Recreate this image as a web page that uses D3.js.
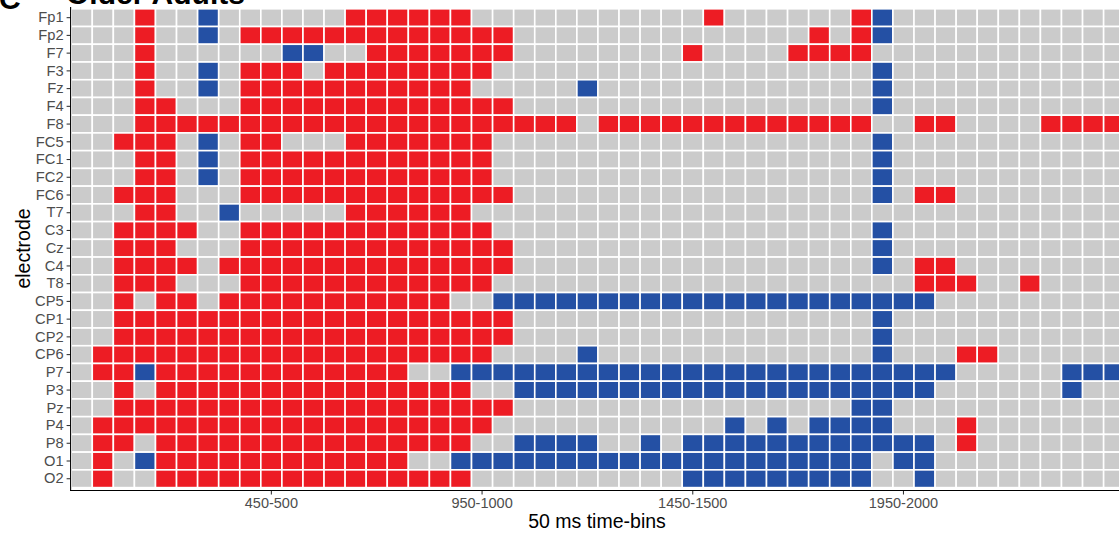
<!DOCTYPE html>
<html>
<head>
<meta charset="utf-8">
<script src="https://cdn.jsdelivr.net/npm/d3@7"></script>
<style>
  html, body { margin: 0; padding: 0; background: #ffffff; }
  svg { display: block; font-family: "Liberation Sans", Arial, Helvetica, sans-serif; }
</style>
</head>
<body>
<svg id="chart" width="1119" height="534"></svg>
<script>
// Electrodes, top to bottom
const electrodes = ["Fp1","Fp2","F7","F3","Fz","F4","F8","FC5","FC1","FC2","FC6","T7",
  "C3","Cz","C4","T8","CP5","CP1","CP2","CP6","P7","P3","Pz","P4","P8","O1","O2"];

// 50 ms time-bins (0–2500 ms)
const timeBins = ["0-50","50-100","100-150","150-200","200-250","250-300","300-350","350-400",
  "400-450","450-500","500-550","550-600","600-650","650-700","700-750","750-800","800-850",
  "850-900","900-950","950-1000","1000-1050","1050-1100","1100-1150","1150-1200","1200-1250",
  "1250-1300","1300-1350","1350-1400","1400-1450","1450-1500","1500-1550","1550-1600",
  "1600-1650","1650-1700","1700-1750","1750-1800","1800-1850","1850-1900","1900-1950",
  "1950-2000","2000-2050","2050-2100","2100-2150","2150-2200","2200-2250","2250-2300",
  "2300-2350","2350-2400","2400-2450","2450-2500"];

const tickLabels = ["450-500","950-1000","1450-1500","1950-2000"];

// Significant positive effects: runs of bin indices [first, last] per electrode
const positiveRuns = [
  [[3,3],[13,18],[30,30],[37,37]],            // Fp1
  [[3,3],[8,20],[35,35],[37,37]],             // Fp2
  [[3,3],[14,20],[29,29],[34,37]],            // F7
  [[3,3],[8,10],[12,19]],                     // F3
  [[3,3],[8,18]],                             // Fz
  [[3,4],[8,20]],                             // F4
  [[3,23],[25,37],[40,41],[46,49]],           // F8
  [[2,4],[8,9],[13,19]],                      // FC5
  [[3,4],[8,19]],                             // FC1
  [[3,4],[8,19]],                             // FC2
  [[2,4],[8,20],[40,41]],                     // FC6
  [[3,4],[13,18]],                            // T7
  [[2,5],[8,19]],                             // C3
  [[2,4],[8,20]],                             // Cz
  [[2,5],[7,20],[40,41]],                     // C4
  [[2,4],[8,19],[40,42],[45,45]],             // T8
  [[2,2],[4,5],[7,17]],                       // CP5
  [[2,20]],                                   // CP1
  [[2,20]],                                   // CP2
  [[1,19],[42,43]],                           // CP6
  [[1,2],[4,15]],                             // P7
  [[2,2],[4,18]],                             // P3
  [[2,20]],                                   // Pz
  [[1,19],[42,42]],                           // P4
  [[1,2],[4,18],[42,42]],                     // P8
  [[1,1],[4,15]],                             // O1
  [[1,1],[4,18]]                              // O2
];

// Significant negative effects: runs of bin indices [first, last] per electrode
const negativeRuns = [
  [[6,6],[38,38]],                            // Fp1
  [[6,6],[38,38]],                            // Fp2
  [[10,11]],                                  // F7
  [[6,6],[38,38]],                            // F3
  [[6,6],[24,24],[38,38]],                    // Fz
  [[38,38]],                                  // F4
  [],                                         // F8
  [[6,6],[38,38]],                            // FC5
  [[6,6],[38,38]],                            // FC1
  [[6,6],[38,38]],                            // FC2
  [[38,38]],                                  // FC6
  [[7,7]],                                    // T7
  [[38,38]],                                  // C3
  [[38,38]],                                  // Cz
  [[38,38]],                                  // C4
  [],                                         // T8
  [[20,40]],                                  // CP5
  [[38,38]],                                  // CP1
  [[38,38]],                                  // CP2
  [[24,24],[38,38]],                          // CP6
  [[3,3],[18,41],[47,49]],                    // P7
  [[21,40],[47,47]],                          // P3
  [[37,38]],                                  // Pz
  [[31,31],[33,33],[35,38]],                  // P4
  [[21,24],[27,27],[29,40]],                  // P8
  [[3,3],[18,37],[39,40]],                    // O1
  [[29,37],[40,40]]                           // O2
];

const effectColors = { pos: "#ed1c24", neg: "#2450a4", none: "#cbcbcb" };

// Build one cell per electrode x time-bin
const cells = [];
electrodes.forEach((el, r) => {
  const state = timeBins.map(() => "none");
  positiveRuns[r].forEach(([a, b]) => { for (let i = a; i <= b; i++) state[i] = "pos"; });
  negativeRuns[r].forEach(([a, b]) => { for (let i = a; i <= b; i++) state[i] = "neg"; });
  timeBins.forEach((bin, c) => cells.push({ electrode: el, bin, effect: state[c] }));
});

const svg = d3.select("#chart");
const W = 1119, H = 534;
svg.append("rect").attr("width", W).attr("height", H).attr("fill", "#ffffff");

// Panel geometry
const panel = { left: 70.6, top: 7.0, bottom: 490.5 };
const x = d3.scaleBand().domain(timeBins).range([71.2, 71.2 + 21.07 * timeBins.length]).padding(0);
const y = d3.scaleBand().domain(electrodes).range([8.8, 487.6]).padding(0);

// Tiles
svg.append("g")
  .selectAll("rect")
  .data(cells)
  .join("rect")
  .attr("x", d => x(d.bin))
  .attr("y", d => y(d.electrode))
  .attr("width", x.bandwidth())
  .attr("height", y.bandwidth())
  .attr("fill", d => effectColors[d.effect])
  .attr("stroke", "#ffffff")
  .attr("stroke-width", 1.6);

// Y axis
const yAxis = svg.append("g")
  .attr("transform", `translate(${panel.left},0)`)
  .call(d3.axisLeft(y).tickSize(4).tickSizeOuter(0).tickPadding(3));
yAxis.select(".domain").remove();
yAxis.selectAll(".tick line").attr("stroke", "#333333").attr("stroke-width", 1.07);
yAxis.selectAll(".tick text")
  .attr("fill", "#4d4d4d")
  .style("font-size", "14.7px")
  .style("font-family", "'Liberation Sans', Arial, sans-serif");

// X axis
const xAxis = svg.append("g")
  .attr("transform", `translate(0,${panel.bottom})`)
  .call(d3.axisBottom(x).tickValues(tickLabels).tickSize(4).tickSizeOuter(0).tickPadding(3));
xAxis.select(".domain").remove();
xAxis.selectAll(".tick line").attr("stroke", "#333333").attr("stroke-width", 1.07);
xAxis.selectAll(".tick text")
  .attr("fill", "#4d4d4d")
  .attr("dy", "0.71em")
  .style("font-size", "14.5px")
  .style("font-family", "'Liberation Sans', Arial, sans-serif");

// Axis lines
svg.append("line")
  .attr("x1", panel.left).attr("x2", panel.left)
  .attr("y1", panel.top).attr("y2", panel.bottom + 0.5)
  .attr("stroke", "#000000").attr("stroke-width", 1.1);
svg.append("line")
  .attr("x1", panel.left - 0.5).attr("x2", W)
  .attr("y1", panel.bottom).attr("y2", panel.bottom)
  .attr("stroke", "#000000").attr("stroke-width", 1.1);

// Axis titles
svg.append("text")
  .attr("x", 597).attr("y", 528)
  .attr("text-anchor", "middle")
  .style("font-size", "19.5px")
  .attr("fill", "#000000")
  .text("50 ms time-bins");

svg.append("text")
  .attr("transform", "translate(30,248.5) rotate(-90)")
  .attr("text-anchor", "middle")
  .style("font-size", "19.5px")
  .attr("fill", "#000000")
  .text("electrode");

// Panel tag and title
svg.append("text")
  .attr("x", -1).attr("y", 9)
  .style("font-size", "30px").style("font-weight", "bold")
  .attr("fill", "#000000")
  .text("C");
svg.append("text")
  .attr("x", 66).attr("y", 4)
  .style("font-size", "30px").style("font-weight", "bold")
  .attr("fill", "#000000")
  .text("Older Adults");
</script>
</body>
</html>
